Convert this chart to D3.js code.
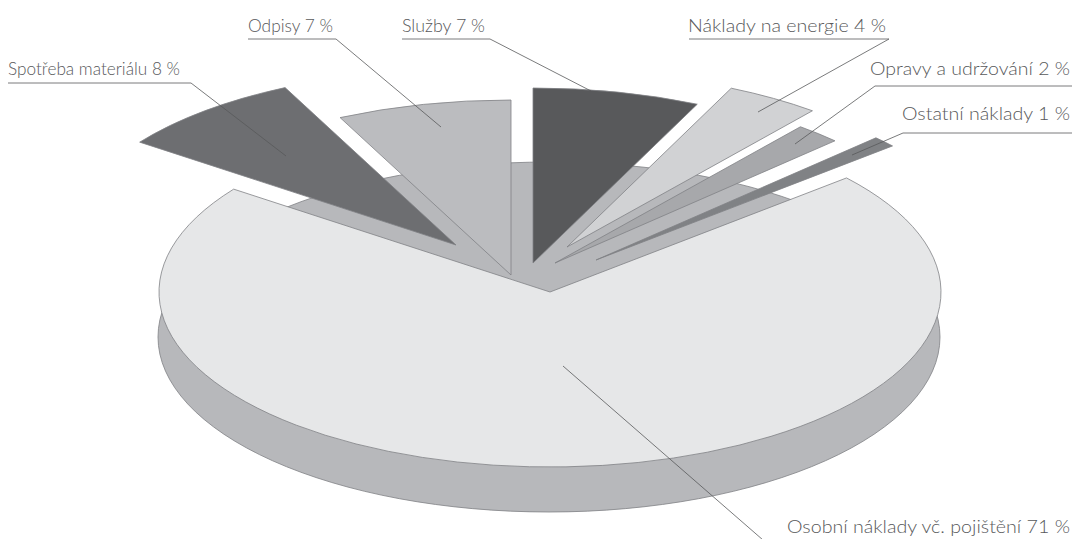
<!DOCTYPE html>
<html>
    <head>
        <meta charset="utf-8">
        <script src="https://d3js.org/d3.v7.min.js"></script>
        <style>
            html, body {
                margin: 0;
                background: #fff;
            }
            svg text {
                font-family: Lato, sans-serif;
                font-size: 18px;
                font-weight: 300;
                fill: #58595b;
            }
            svg .leader {
                fill: none;
                stroke: #58595b;
                stroke-width: 0.8;
            }
            svg .slice {
                stroke: #808285;
                stroke-width: 0.8;
                vector-effect: non-scaling-stroke;
            }
        </style>
    </head>
    <body>
        <div id="chart"></div>

        <script>
            var categories = ["Spotřeba materiálu", "Odpisy", "Služby", "Náklady na energie",
                              "Opravy a udržování", "Ostatní náklady", "Osobní náklady vč. pojištění"];
            var shares = [7.8, 7.2, 6.9, 3.9, 1.9, 1.0, 71.3];

            var colors = ["#6d6e71", "#bbbcbf", "#58595b", "#d1d2d4", "#a7a8ab", "#808285", "#e6e7e8"];

            // how far each slice is pulled off the pie, in px
            var shiftX = [-93, -38, -16, 18, 6, 47, 1];
            var shiftY = [-47, -17, -29, -45, -29, -32, 0];

            // label start, baseline and width, then the leader line it sits on
            var labelX = [8, 248, 402, 688, 870, 902, 787];
            var labelY = [75, 32, 32, 32, 75, 120, 533];
            var labelW = [172, 85, 83, 198, 200, 168, 283];
            var leaders = [
                [[8, 83], [191, 83], [286, 156]],
                [[248, 39], [336, 39], [441, 127]],
                [[402, 39], [490, 39], [591, 91]],
                [[689, 39], [889, 39], [758, 112]],
                [[1072, 86], [875, 86], [795, 144]],
                [[1072, 133], [903, 133], [852, 155]],
                [[563, 366], [763, 540], [1072, 540]]
            ];

            var width = 1074,
                height = 539,
                cx = 549,
                cy = 292,
                radius = 391,
                tilt = 175 / 391,
                depth = 45;

            var svg = d3.select("#chart")
                .append("svg")
                    .attr("width", width)
                    .attr("height", height)
                    .style("display", "block");

            var pie = d3.pie()
                .sort(null)
                .startAngle(-54 * Math.PI / 180)
                .endAngle(306 * Math.PI / 180);

            var arc = d3.arc()
                .innerRadius(0)
                .outerRadius(radius);

            // the disc under the top face
            svg.append("path")
                .attr("d", arc({startAngle: 0, endAngle: 2 * Math.PI}))
                .attr("transform", "translate(" + cx + "," + (cy + depth) + ") scale(1," + tilt + ")")
                .attr("fill", "#b7b8bb")
                .attr("stroke", "#808285")
                .attr("stroke-width", 0.8)
                .attr("vector-effect", "non-scaling-stroke");

            var slices = pie(shares);
            // big slice first, the small ones sit on top of it
            var drawOrder = [6, 0, 1, 2, 3, 4, 5];

            svg.selectAll(".top")
                .data(drawOrder)
                .enter()
                .append("path")
                .attr("class", "slice top")
                .attr("d", function(i) { return arc(slices[i]); })
                .attr("transform", function(i) {
                    return "translate(" + (cx + shiftX[i]) + "," + (cy + shiftY[i]) + ") scale(1," + tilt + ")";
                })
                .attr("fill", function(i) { return colors[i]; });

            var line = d3.line();

            svg.selectAll(".leader")
                .data(leaders)
                .enter()
                .append("path")
                .attr("class", "leader")
                .attr("d", line);

            svg.selectAll(".label")
                .data(categories)
                .enter()
                .append("text")
                .attr("class", "label")
                .attr("x", function(d, i) { return labelX[i]; })
                .attr("y", function(d, i) { return labelY[i]; })
                .attr("textLength", function(d, i) { return labelW[i]; })
                .attr("lengthAdjust", "spacingAndGlyphs")
                .text(function(d, i) { return d + " " + Math.round(shares[i]) + " %"; });
        </script>
    </body>
</html>
